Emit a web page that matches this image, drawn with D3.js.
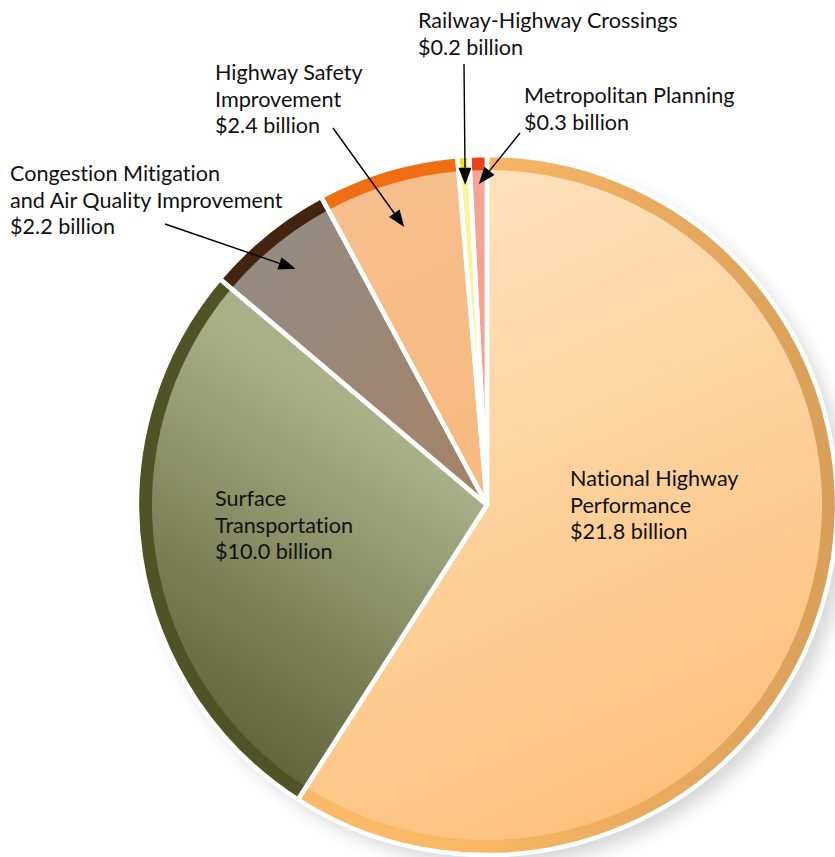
<!DOCTYPE html>
<html><head><meta charset="utf-8">
<script src="https://cdn.jsdelivr.net/npm/d3@7"></script>
<style>body{margin:0;background:#fff}svg{display:block}text{font-variant-ligatures:none;font-feature-settings:"liga" 0}</style>
</head><body>
<script>
const categories = ["National Highway Performance","Surface Transportation","Congestion Mitigation and Air Quality Improvement","Highway Safety Improvement","Railway-Highway Crossings","Metropolitan Planning"];
const values = [21.8, 10.0, 2.2, 2.4, 0.2, 0.3];
const valueLabels = ["$21.8 billion","$10.0 billion","$2.2 billion","$2.4 billion","$0.2 billion","$0.3 billion"];
const nameLines = [["National Highway","Performance"],["Surface","Transportation"],["Congestion Mitigation","and Air Quality Improvement"],["Highway Safety","Improvement"],["Railway-Highway Crossings"],["Metropolitan Planning"]];
const rimColors = [["#fbb866","#d89f5a"],["#4f5325","#43461c"],["#43240f","#3a1e0a"],["#f06e12","#ef6a0c"],["#f7e11f","#f5dc1a"],["#e8441c","#e53f17"]];
const fillColors = [["#fee2bd","#fdc07a"],["#aab088","#5a5f34"],["#958b80","#a3836a"],["#f7bf8d","#f7b26c"],["#faf59a","#f8ef7a"],["#f5a592","#f39a82"]];

const W=835,H=857, cx=487, cy=505, R=350, Rin=335;
const svg=d3.select("body").append("svg").attr("width",W).attr("height",H);
const defs=svg.append("defs");
const sh=defs.append("filter").attr("id","sh").attr("x","-20%").attr("y","-20%").attr("width","140%").attr("height","140%");
sh.append("feGaussianBlur").attr("stdDeviation",9);

const fillDirs=[[-0.5,-0.8,0.3,1],[-0.1,-0.1,-0.7,0.8],[-0.7,-0.6,-0.1,-0.1],[-0.5,-0.8,0.3,1],[-0.5,-0.8,0.3,1],[-0.5,-0.8,0.3,1]];
fillColors.forEach((c,i)=>{
  const d=fillDirs[i];
  const g=defs.append("linearGradient").attr("id","f"+i).attr("gradientUnits","userSpaceOnUse")
   .attr("x1",d[0]*R).attr("y1",d[1]*R).attr("x2",d[2]*R).attr("y2",d[3]*R);
  g.append("stop").attr("offset","0%").attr("stop-color",c[0]);
  g.append("stop").attr("offset","100%").attr("stop-color",c[1]);
  const r=defs.append("linearGradient").attr("id","r"+i).attr("gradientUnits","userSpaceOnUse")
   .attr("x1",-0.1*R).attr("y1",0).attr("x2",R).attr("y2",0);
  r.append("stop").attr("offset","0%").attr("stop-color",rimColors[i][0]);
  r.append("stop").attr("offset","100%").attr("stop-color",rimColors[i][1]);
});

const pie=d3.pie().sort(null).value(d=>d)(values);
const g=svg.append("g").attr("transform",`translate(${cx},${cy})`);
g.append("circle").attr("cx",10).attr("cy",10).attr("r",R).attr("fill","#000").attr("opacity",0.16).attr("filter","url(#sh)");
const outer=d3.arc().innerRadius(0).outerRadius(R);
const inner=d3.arc().innerRadius(0).outerRadius(Rin);
g.selectAll("path.rim").data(pie).join("path").attr("class","rim").attr("d",outer)
 .attr("fill",(d,i)=>`url(#r${i})`);
g.selectAll("path.in").data(pie).join("path").attr("class","in").attr("d",inner)
 .attr("fill",(d,i)=>`url(#f${i})`);
g.selectAll("path.sep").data(pie).join("path").attr("class","sep").attr("d",outer)
 .attr("fill","none").attr("stroke","#fff").attr("stroke-width",4.5).attr("stroke-linejoin","miter");

const font="Lato, 'Open Sans', sans-serif";
const labelPos=[[570,486],[215,506],[10,181],[215,80],[418,28],[524,103]];
const lh=26.6;
const lab=svg.append("g").attr("font-family",font).attr("font-size",21.6).attr("fill","#111");
categories.forEach((c,i)=>{
  const lines=nameLines[i].concat([valueLabels[i]]);
  const t=lab.append("text").attr("x",labelPos[i][0]).attr("y",labelPos[i][1]);
  lines.forEach((l,j)=>t.append("tspan").attr("x",labelPos[i][0]).attr("dy",j?lh:0).text(l));
});
const arrowStarts={2:[165,224],3:[333,128],4:[464,64],5:[520,133]};
const arrowR={2:304,3:290,4:321,5:321};
const ar=svg.append("g");
Object.keys(arrowStarts).forEach(k=>{
  const d=pie[k]; const a=(d.startAngle+d.endAngle)/2;
  const ex=cx+arrowR[k]*Math.sin(a), ey=cy-arrowR[k]*Math.cos(a);
  const [sx,sy]=arrowStarts[k];
  const L=Math.hypot(ex-sx,ey-sy), ux=(ex-sx)/L, uy=(ey-sy)/L;
  const hl=17, hw=6.5;
  const bx=ex-ux*hl, by=ey-uy*hl;
  ar.append("line").attr("x1",sx).attr("y1",sy).attr("x2",bx).attr("y2",by).attr("stroke","#000").attr("stroke-width",1.4);
  ar.append("path").attr("d",`M${ex},${ey}L${bx-uy*hw},${by+ux*hw}L${bx+uy*hw},${by-ux*hw}Z`).attr("fill","#000");
});
</script>
</body></html>
